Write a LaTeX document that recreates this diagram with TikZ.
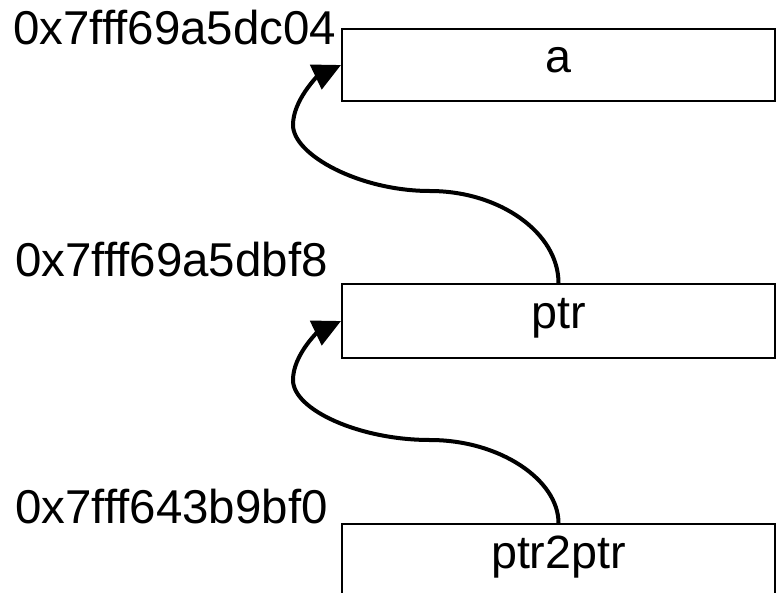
\documentclass[tikz,border=0pt]{standalone}
\usepackage{fontspec}
\setmainfont{Liberation Sans}
\usetikzlibrary{arrows.meta}
\tikzset{
  membox/.style={draw=black, line width=1.5pt, fill=white, inner sep=0pt,
    minimum width=324.75pt, rectangle},
  boxtext/.style={inner sep=0pt, font=\fontsize{35}{40}\selectfont},
  addr/.style={inner sep=0pt, font=\fontsize{35.6}{40}\selectfont},
  ptrarrow/.style={line width=3pt, draw=black,
    -{Triangle[length=21pt, width=20pt]}}
}
\begin{document}
\begin{tikzpicture}[x=0.75pt, y=-0.75pt]
\useasboundingbox (0,0) rectangle (776,593);
\clip (0,0) rectangle (776,593);
\fill[white] (0,0) rectangle (776,593);
% boxes
\node[membox, minimum height=54pt, anchor=north] (a) at (558.5,28) {};
\node[membox, minimum height=55.5pt, anchor=north] (ptr) at (558.5,283) {};
\node[membox, minimum height=105pt, anchor=north] (pp) at (558.5,523) {};
% box texts
\node[boxtext, anchor=base] (ta) at (558.5,72) {a};
\node[boxtext, anchor=base] (tptr) at (558.5,328) {ptr};
\node[boxtext, anchor=base] (tpp) at (558.5,568) {ptr2ptr};
% addresses
\node[addr, anchor=base west] (la) at (13,44) {0x7fff69a5dc04};
\node[addr, anchor=base west] (lptr) at (15,276) {0x7fff69a5dbf8};
\node[addr, anchor=base west] (lpp) at (15,523) {0x7fff643b9bf0};
% connectors
\draw[ptrarrow] (ptr.north) .. controls (558.5,233) and (500,191) .. (430,191)
  .. controls (360,191) and (293,155) .. (293,125)
  .. controls (293,100) and (318,76) .. (a.west);
\draw[ptrarrow] (pp.north) .. controls (558.5,480) and (500,440) .. (430,440)
  .. controls (360,440) and (293,410) .. (293,380)
  .. controls (293,355) and (318,332) .. (ptr.west);
\end{tikzpicture}
\end{document}
